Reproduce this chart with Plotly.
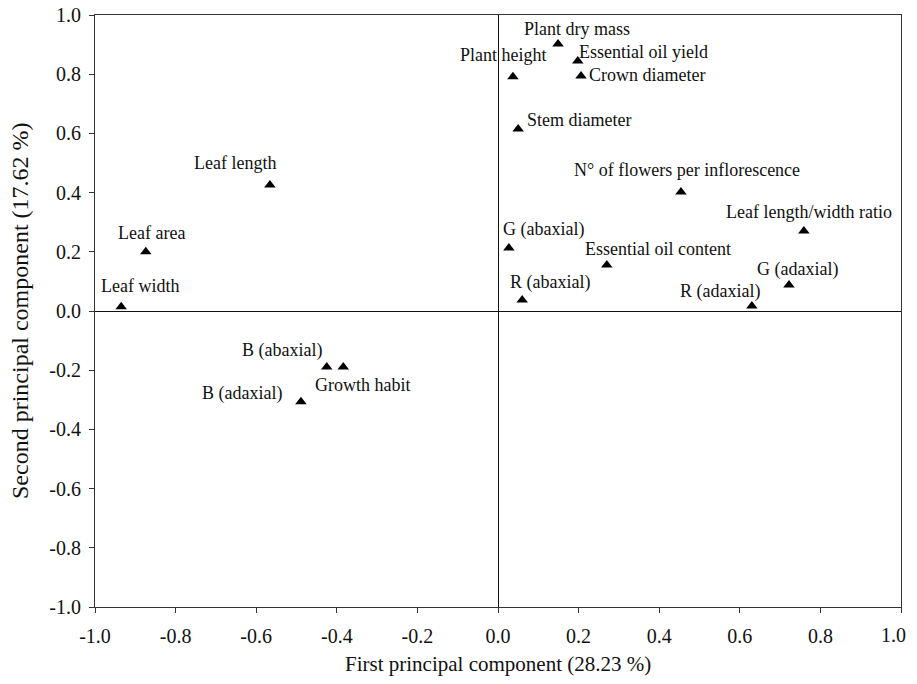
import plotly.graph_objects as go

labels = ["Plant dry mass", "Essential oil yield", "Crown diameter", "Plant height",
          "Stem diameter", "N° of flowers per inflorescence", "Leaf length/width ratio",
          "G (abaxial)", "Essential oil content", "R (abaxial)", "R (adaxial)",
          "G (adaxial)", "Leaf length", "Leaf area", "Leaf width",
          "B (abaxial)", "Growth habit", "B (adaxial)"]
pc1 = [0.149, 0.198, 0.206, 0.037, 0.050, 0.454, 0.759, 0.027, 0.270, 0.060, 0.630,
       0.722, -0.566, -0.874, -0.935, -0.425, -0.384, -0.489]
pc2 = [0.902, 0.845, 0.794, 0.791, 0.615, 0.402, 0.270, 0.213, 0.155, 0.037, 0.017,
       0.088, 0.426, 0.200, 0.014, -0.189, -0.189, -0.307]

x_title = "First principal component (28.23 %)"
y_title = "Second principal component (17.62 %)"

tick_vals = [-1.0, -0.8, -0.6, -0.4, -0.2, 0.0, 0.2, 0.4, 0.6, 0.8, 1.0]
tick_text = ["-1.0", "-0.8", "-0.6", "-0.4", "-0.2", "0.0", "0.2", "0.4", "0.6", "0.8", "1.0"]

# label offsets in pixels (dx right, dy down) relative to the marker
offsets = [(19, -15), (66, -9), (66, -1), (-9, -22), (61, -9), (6, -22), (5, -19),
           (35, -18), (51, -16), (28, -18), (-32, -14), (9, -15), (-35, -22),
           (6, -19), (19, -21), (-45, -16), (19, 18), (-59, -8)]

FONT = "Liberation Serif, Times New Roman, serif"
INK = "#111"

fig = go.Figure()
fig.add_trace(go.Scatter(
    x=pc1, y=pc2, mode="markers",
    marker=dict(symbol="triangle-up", size=10, color="black"),
    hoverinfo="text", text=labels, showlegend=False,
))

for lab, x, y, (dx, dy) in zip(labels, pc1, pc2, offsets):
    fig.add_annotation(x=x, y=y, text=lab, showarrow=False,
                       xanchor="center", yanchor="middle",
                       xshift=dx, yshift=-dy,
                       font=dict(family=FONT, size=18, color=INK))

axis_common = dict(
    range=[-1.0, 1.0], tickvals=tick_vals,
    showgrid=False, zeroline=True, zerolinecolor=INK, zerolinewidth=1,
    showline=True, linecolor="#333", linewidth=1, mirror=True,
    ticks="outside", ticklen=5, tickcolor="#333",
    tickfont=dict(family=FONT, size=20, color=INK),
    automargin=False, ticklabeloverflow="allow",
)

# the last x tick label sits at the page edge; draw it right-aligned so it stays visible
fig.update_xaxes(**axis_common, ticktext=tick_text[:-1] + [""], ticklabelstandoff=6)
fig.update_yaxes(**axis_common, ticktext=tick_text, ticklabelstandoff=4)
fig.add_annotation(x=tick_vals[-1], xref="x", y=0, yref="paper", text=tick_text[-1],
                   showarrow=False, xanchor="right", yanchor="middle",
                   xshift=7, yshift=-28,
                   font=dict(family=FONT, size=20, color=INK))

# axis titles
fig.add_annotation(x=0.5, y=0, xref="paper", yref="paper", text=x_title,
                   showarrow=False, xanchor="center", yanchor="middle", yshift=-57,
                   font=dict(family=FONT, size=21, color=INK))
fig.add_annotation(x=0, y=0.5, xref="paper", yref="paper", text=y_title,
                   showarrow=False, xanchor="center", yanchor="middle", xshift=-75,
                   textangle=-90, font=dict(family=FONT, size=24, color=INK))

# the page body has an 8px margin; the figure is sized so the page does not scroll
fig.update_layout(
    width=909, height=668,
    margin=dict(l=87, r=16, t=7, b=69),
    plot_bgcolor="white", paper_bgcolor="white",
    font=dict(family=FONT, size=18, color=INK),
)

fig.write_html("out.html")
